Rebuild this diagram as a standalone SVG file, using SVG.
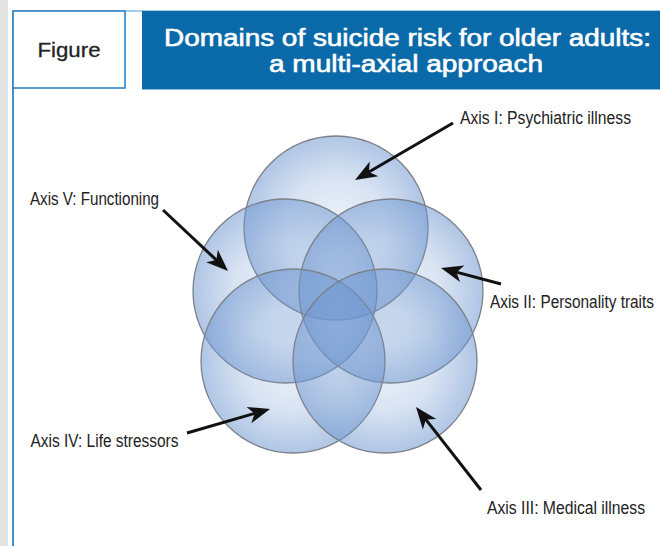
<svg xmlns="http://www.w3.org/2000/svg" width="660" height="546" viewBox="0 0 660 546">
  <defs>
    <radialGradient id="disc" cx="50%" cy="50%" r="50%">
      <stop offset="0" stop-color="#6f97d0" stop-opacity="0.12"/>
      <stop offset="0.55" stop-color="#6f97d0" stop-opacity="0.27"/>
      <stop offset="1" stop-color="#6f97d0" stop-opacity="0.55"/>
    </radialGradient>
    <marker id="head" viewBox="-12 -10 26 20" refX="0" refY="0" markerWidth="26" markerHeight="20" markerUnits="userSpaceOnUse" orient="auto" overflow="visible">
      <path d="M12,0 L-10,-8.5 L-4,0 L-10,8.5 Z" fill="#111"/>
    </marker>
    <style>
      .circ { fill: url(#disc); stroke: #7b8089; stroke-width: 1.3; }
      .conn { stroke: #111; stroke-width: 3; fill: none; marker-end: url(#head); }
      .lbl { font-family: "Liberation Sans", Arial, sans-serif; font-size: 15.8px; fill: #222; }
      .title { font-family: "Liberation Sans", Arial, sans-serif; font-size: 23px; font-weight: normal; fill: #ffffff; stroke: #ffffff; stroke-width: 0.6; text-anchor: middle; }
    </style>
  </defs>

  <rect x="0" y="0" width="660" height="546" fill="#ffffff"/>
  <rect x="0" y="0" width="8" height="546" fill="#e4e4e4"/>

  <!-- frame -->
  <line x1="13" y1="11" x2="660" y2="11" stroke="#8dbbe0" stroke-width="1.5"/>
  <line x1="13" y1="11" x2="13" y2="546" stroke="#2f84c3" stroke-width="1.8"/>

  <g id="figure-tab">
    <rect x="13" y="11" width="112" height="77" fill="#ffffff" stroke="#2f84c3" stroke-width="1.6"/>
    <text x="69" y="57" font-family="Liberation Sans, Arial, sans-serif" font-size="20.5" fill="#222" stroke="#222" stroke-width="0.3" text-anchor="middle" textLength="63" lengthAdjust="spacingAndGlyphs">Figure</text>
  </g>

  <g id="header">
    <rect x="142" y="11" width="518" height="78" fill="#0a69a9"/>
    <line x1="142" y1="89.5" x2="660" y2="89.5" stroke="#8dbbe0" stroke-width="1"/>
    <text class="title" x="407.5" y="46" textLength="487" lengthAdjust="spacingAndGlyphs">Domains of suicide risk for older adults:</text>
    <text class="title" x="406" y="72" textLength="274" lengthAdjust="spacingAndGlyphs">a multi-axial approach</text>
  </g>

  <g id="axis-I"><circle class="circ" cx="336" cy="228" r="92"/></g>
  <g id="axis-V"><circle class="circ" cx="285" cy="291" r="92"/></g>
  <g id="axis-II"><circle class="circ" cx="391" cy="291" r="92"/></g>
  <g id="axis-IV"><circle class="circ" cx="293" cy="361" r="92"/></g>
  <g id="axis-III"><circle class="circ" cx="385" cy="361" r="92"/></g>

  <g id="labels">
    <text class="lbl" transform="translate(460,124) scale(1,1.108)" textLength="171" lengthAdjust="spacingAndGlyphs">Axis I: Psychiatric illness</text>
    <text class="lbl" transform="translate(490,308) scale(1,1.108)" textLength="164" lengthAdjust="spacingAndGlyphs">Axis II: Personality traits</text>
    <text class="lbl" transform="translate(487,514) scale(1,1.108)" textLength="158" lengthAdjust="spacingAndGlyphs">Axis III: Medical illness</text>
    <text class="lbl" transform="translate(30.5,447) scale(1,1.108)" textLength="148" lengthAdjust="spacingAndGlyphs">Axis IV: Life stressors</text>
    <text class="lbl" transform="translate(30,205) scale(1,1.108)" textLength="129" lengthAdjust="spacingAndGlyphs">Axis V: Functioning</text>
  </g>

  <g id="connectors">
    <line class="conn" x1="453" y1="123" x2="365.4" y2="174"/>
    <line class="conn" x1="501" y1="284" x2="452.6" y2="271.1"/>
    <line class="conn" x1="481" y1="490" x2="423.4" y2="416.4"/>
    <line class="conn" x1="187" y1="433" x2="258.5" y2="412.3"/>
    <line class="conn" x1="163" y1="210" x2="219.3" y2="262.8"/>
  </g>
</svg>
